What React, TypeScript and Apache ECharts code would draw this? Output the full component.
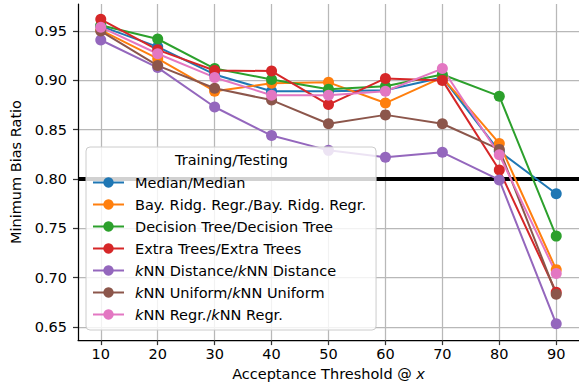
import React, { useEffect, useRef } from "react";
import * as echarts from "echarts";

const thresholds = [10, 20, 30, 40, 50, 60, 70, 80, 90];
const xTicks = [10, 20, 30, 40, 50, 60, 70, 80, 90];
const yTicks = [0.65, 0.7, 0.75, 0.8, 0.85, 0.9, 0.95];
const referenceLevel = 0.8;

const seriesNames = [
  "Median/Median",
  "Bay. Ridg. Regr./Bay. Ridg. Regr.",
  "Decision Tree/Decision Tree",
  "Extra Trees/Extra Trees",
  "kNN Distance/kNN Distance",
  "kNN Uniform/kNN Uniform",
  "kNN Regr./kNN Regr.",
];
const colors = ["#1f77b4", "#ff7f0e", "#2ca02c", "#d62728", "#9467bd", "#8c564b", "#e377c2"];

const median = [0.955, 0.934, 0.906, 0.889, 0.889, 0.89, 0.903, 0.828, 0.785];
const bayRidge = [0.951, 0.922, 0.889, 0.897, 0.898, 0.877, 0.903, 0.836, 0.708];
const decisionTree = [0.956, 0.942, 0.912, 0.901, 0.891, 0.894, 0.906, 0.884, 0.742];
const extraTrees = [0.962, 0.931, 0.91, 0.9095, 0.8755, 0.902, 0.9, 0.809, 0.685];
const knnDistance = [0.941, 0.913, 0.873, 0.844, 0.829, 0.822, 0.827, 0.799, 0.653];
const knnUniform = [0.95, 0.915, 0.892, 0.88, 0.856, 0.865, 0.856, 0.83, 0.683];
const knnRegr = [0.954, 0.927, 0.903, 0.885, 0.885, 0.889, 0.912, 0.8245, 0.704];

const allValues = [median, bayRidge, decisionTree, extraTrees, knnDistance, knnUniform, knnRegr];

const FONT = "DejaVu Sans";

export default function App() {
  const ref = useRef<HTMLDivElement>(null);
  useEffect(() => {
    document.body.style.margin = "0";
    if (!ref.current) return;
    const chart = echarts.init(ref.current, null, { renderer: "svg" });
    const lineSeries = allValues.map((vals, i) => ({
      name: seriesNames[i],
      type: "line",
      data: thresholds.map((t, j) => [t, vals[j]]),
      symbol: "circle",
      symbolSize: 11,
      lineStyle: { width: 2, color: colors[i] },
      itemStyle: { color: colors[i] },
      z: 3,
    }));
    chart.setOption({
      animation: false,
      textStyle: { fontFamily: FONT },
      grid: { left: 78, right: 0, top: 4, bottom: 45, containLabel: false },
      xAxis: {
        type: "value",
        min: 6,
        max: 94,
        name: "Acceptance Threshold @ {i|x}",
        nameLocation: "middle",
        nameGap: 25,
        nameTextStyle: {
          fontFamily: FONT,
          fontSize: 14.5,
          color: "#000",
          verticalAlign: "top",
          rich: { i: { fontStyle: "italic", fontFamily: FONT, fontSize: 14.5, color: "#000" } },
        },
        axisLine: { show: true, onZero: false, lineStyle: { color: "#000", width: 1.25 } },
        axisTick: { show: true, customValues: xTicks, length: 5, lineStyle: { color: "#333", width: 1.25 } },
        axisLabel: { customValues: xTicks, margin: 6, fontFamily: FONT, fontSize: 14.5, color: "#000" },
        splitLine: { show: true, lineStyle: { color: "#b8b8b8", width: 1.25 } },
      },
      yAxis: {
        type: "value",
        min: 0.6365,
        max: 0.9775,
        name: "Minimum Bias Ratio",
        nameLocation: "middle",
        nameGap: 49,
        nameTextStyle: { fontFamily: FONT, fontSize: 14.5, color: "#000" },
        axisLine: { show: true, onZero: false, lineStyle: { color: "#000", width: 1.25 } },
        axisTick: { show: true, customValues: yTicks, length: 5, lineStyle: { color: "#333", width: 1.25 } },
        axisLabel: {
          customValues: yTicks,
          margin: 11,
          fontFamily: FONT,
          fontSize: 14.5,
          color: "#000",
          formatter: (v: number) => v.toFixed(2),
        },
        splitLine: { show: true, lineStyle: { color: "#b8b8b8", width: 1.25 } },
      },
      legend: {
        orient: "vertical",
        left: 86,
        top: 147,
        data: seriesNames,
        padding: [28, 10, 8, 6],
        itemWidth: 31,
        itemHeight: 13,
        itemGap: 7,
        backgroundColor: "rgba(255,255,255,0.82)",
        borderColor: "#cccccc",
        borderWidth: 1,
        borderRadius: 4,
        z: 10,
        formatter: (name: string) => name.replace(/kNN/g, "{i|k}NN"),
        textStyle: {
          fontFamily: FONT,
          fontSize: 14.5,
          color: "#000",
          padding: [0, 0, 0, 6],
          rich: {
            i: { fontStyle: "italic", fontFamily: FONT, fontSize: 14.5, color: "#000" },
          },
        },
      },
      graphic: [
        {
          type: "text",
          left: 175,
          top: 152,
          z: 100,
          style: { text: "Training/Testing", fontFamily: FONT, fontSize: 14.5, fill: "#000" },
        },
      ],
      series: [
        {
          name: "threshold",
          type: "line",
          data: [
            [6, referenceLevel],
            [94, referenceLevel],
          ],
          symbol: "none",
          lineStyle: { color: "#000", width: 4 },
          z: 2,
          silent: true,
        },
        ...lineSeries,
      ],
    });
    return () => chart.dispose();
  }, []);
  return <div ref={ref} style={{ width: 579, height: 386 }} />;
}
